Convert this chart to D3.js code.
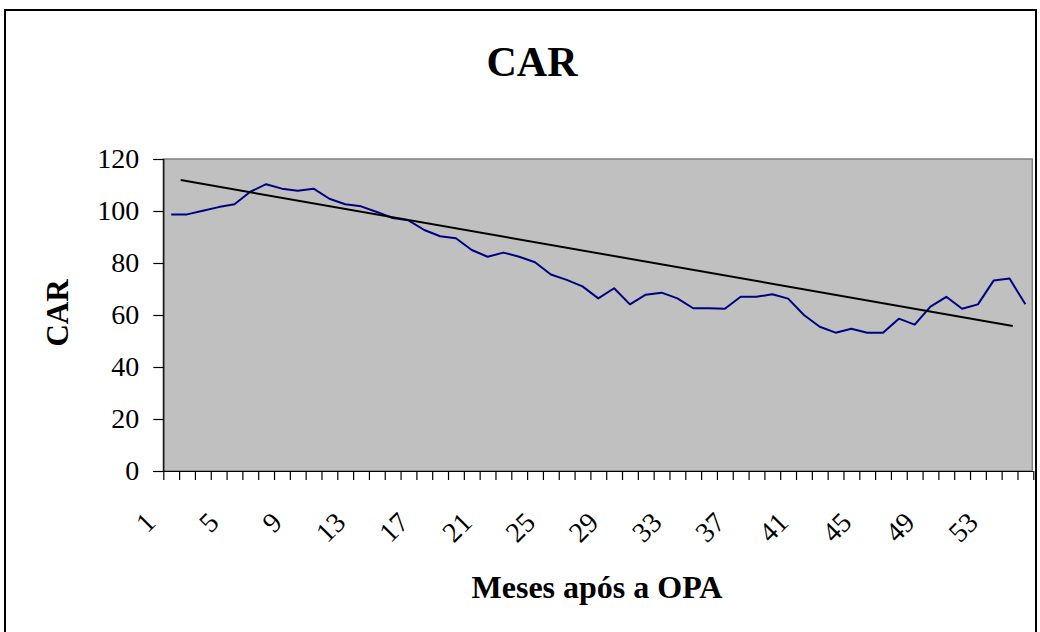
<!DOCTYPE html>
<html>
<head>
<meta charset="utf-8">
<script src="https://cdn.jsdelivr.net/npm/d3@7/dist/d3.min.js"></script>
<style>
  html, body { margin: 0; padding: 0; background: #ffffff; }
  svg { display: block; }
  text { font-family: "Liberation Serif", "Times New Roman", serif; fill: #000; }
</style>
</head>
<body>
<svg id="chart" width="1040" height="632"></svg>
<script>
// ---- data ----
const months = [1,2,3,4,5,6,7,8,9,10,11,12,13,14,15,16,17,18,19,20,21,22,23,24,25,26,27,28,29,30,31,32,33,34,35,36,37,38,39,40,41,42,43,44,45,46,47,48,49,50,51,52,53,54,55];
const carValues = [98.7,98.7,100.1,101.5,102.6,107.4,110.3,108.6,107.8,108.6,104.7,102.6,101.8,99.6,97.3,96.4,92.7,90.3,89.5,85.0,82.4,84.0,82.4,80.3,75.6,73.5,71.0,66.4,70.3,64.1,67.8,68.6,66.4,62.6,62.6,62.4,67.0,67.0,68.0,66.3,60.0,55.5,53.2,54.7,53.2,53.2,58.6,56.3,63.2,67.0,62.4,64.1,73.3,74.0,64.1];
const trendX = [1.6, 54.2];
const trendY = [111.9, 55.8];
const xTickLabels = ["1","5","9","13","17","21","25","29","33","37","41","45","49","53"];
const yTicks = [0,20,40,60,80,100,120];
const chartTitle = "CAR";
const yTitle = "CAR";
const xTitle = "Meses após a OPA";

// ---- layout ----
const svg = d3.select("#chart");
const L = 163.3, R = 1033.3, T = 159, B = 471;

const x = d3.scaleLinear().domain([0.5, months.length + 0.5]).range([L, R]);
const y = d3.scaleLinear().domain([0, 120]).range([B, T]);

// outer border
svg.append("rect").attr("x", 5).attr("y", 10).attr("width", 1031).attr("height", 640)
  .attr("fill", "none").attr("stroke", "#000").attr("stroke-width", 2);

// plot area
svg.append("rect").attr("x", L).attr("y", T).attr("width", R - L - 1).attr("height", B - T)
  .attr("fill", "#c0c0c0").attr("stroke", "#808080").attr("stroke-width", 1.5);

// title
svg.append("text").attr("x", 532).attr("y", 76).attr("text-anchor", "middle")
  .attr("font-size", 42).attr("font-weight", "bold").text(chartTitle);

// y axis
const yAxis = d3.axisLeft(y).tickValues(yTicks).tickSize(10).tickPadding(14).tickFormat(d3.format("d"));
const gy = svg.append("g").attr("transform", `translate(${L},0)`).call(yAxis);
gy.select(".domain").attr("stroke", "#000").attr("stroke-width", 1.2);
gy.selectAll(".tick line").attr("stroke", "#000").attr("stroke-width", 1.2);
gy.selectAll(".tick text").attr("font-size", 28).attr("font-family", "Liberation Serif").attr("fill", "#000");

// x axis: ticks at category boundaries
const boundaries = months.map(m => m - 0.5).concat([months.length + 0.5]);
const xAxis = d3.axisBottom(x).tickValues(boundaries).tickSize(9).tickFormat("");
const gx = svg.append("g").attr("transform", `translate(0,${B})`).call(xAxis);
gx.select(".domain").attr("stroke", "#000").attr("stroke-width", 1.2).attr("d", `M${L - 10},0.5H${R}`);
gx.selectAll(".tick line").attr("stroke", "#000").attr("stroke-width", 1.2);

// x tick labels (rotated)
svg.append("g").selectAll("text").data(xTickLabels).join("text")
  .attr("transform", d => `translate(${x(+d) - 14},${B + 53}) rotate(-45)`)
  .attr("text-anchor", "end")
  .attr("font-size", 28)
  .text(d => d);

// axis titles
svg.append("text").attr("transform", `translate(68,313) rotate(-90)`).attr("text-anchor", "middle")
  .attr("font-size", 31).attr("font-weight", "bold").text(yTitle);
svg.append("text").attr("x", 597).attr("y", 598).attr("text-anchor", "middle")
  .attr("font-size", 32).attr("font-weight", "bold").text(xTitle);

// data line
const line = d3.line().x((d, i) => x(months[i])).y(d => y(d));
svg.append("path").datum(carValues).attr("d", line)
  .attr("fill", "none").attr("stroke", "#000080").attr("stroke-width", 2).attr("stroke-linejoin", "round");

// trend line
const tline = d3.line().x((d, i) => x(trendX[i])).y(d => y(d));
svg.append("path").datum(trendY).attr("d", tline)
  .attr("fill", "none").attr("stroke", "#000").attr("stroke-width", 2);
</script>
</body>
</html>
